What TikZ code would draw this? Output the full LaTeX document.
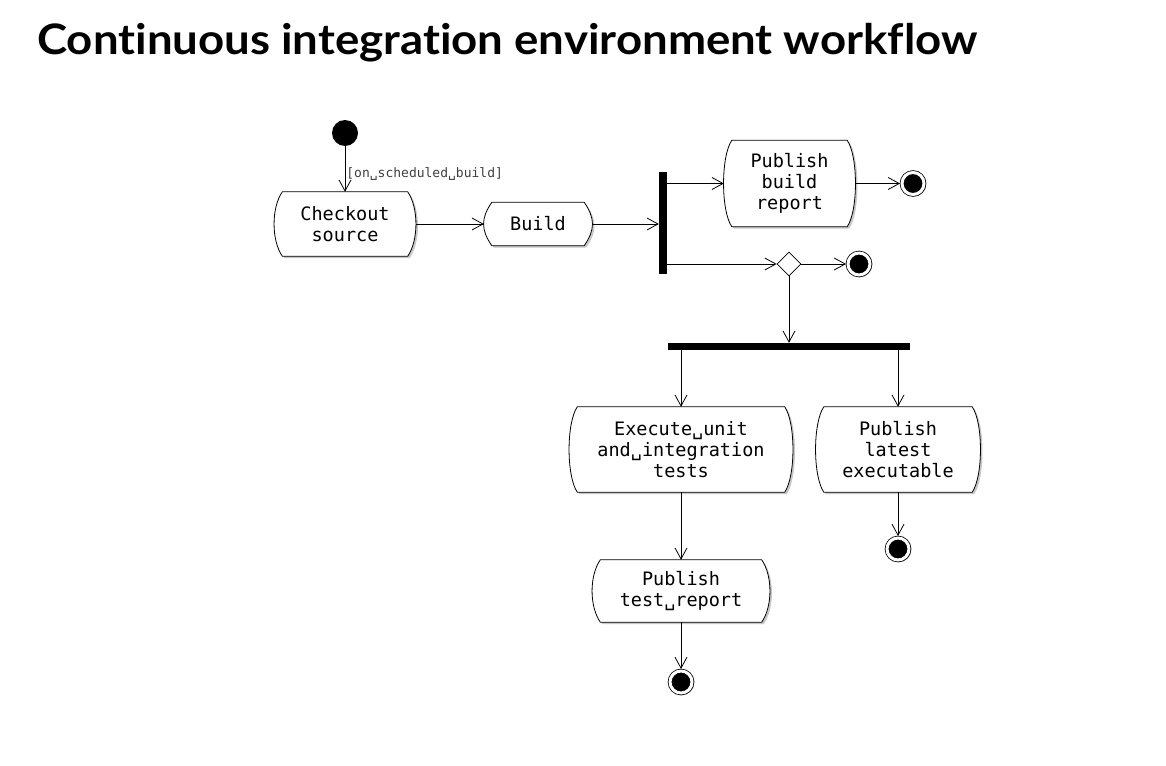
\documentclass[tikz,border=0pt]{standalone}
\usepackage{fontspec}
\usepackage{tikz}
\usetikzlibrary{arrows.meta, positioning, backgrounds, shapes.geometric}
\newfontfamily\umlfont{DejaVu Sans Mono}
\newfontfamily\titlefont[Ligatures=NoCommon]{Lato}

% outline of an action: straight top and bottom, bulging sides
\newcommand\actionpath[1]{([xshift=8pt]#1.north west) -- ([xshift=-8pt]#1.north east)
  .. controls +(11,16) and +(11,-16) .. ([xshift=-8pt]#1.south east)
  -- ([xshift=8pt]#1.south west)
  .. controls +(-11,-16) and +(-11,16) .. ([xshift=8pt]#1.north west) -- cycle}

\tikzset{
  flow/.style={-{Straight Barb[length=11pt,width=12pt]}, line width=0.8pt},
  action/.style={font=\umlfont\fontsize{18.5}{21}\selectfont, align=center, inner sep=0pt},
  start/.style={circle, fill=black, minimum size=26pt, inner sep=0pt},
  stop/.style={circle, fill=black, draw=black, line width=0.8pt, double=white, double distance=3pt,
    minimum size=22pt, inner sep=0pt, outer sep=2pt,
    preaction={draw=black!25, fill=black!25, transform canvas={shift={(1.5pt,-1.5pt)}}}},
  decision/.style={diamond, draw, fill=white, line width=0.8pt, aspect=1,
    minimum width=24pt, minimum height=24pt, inner sep=0pt},
  syncbar/.style={fill=black, inner sep=0pt},
}

\begin{document}
\begin{tikzpicture}[x=1pt, y=-1pt]
  \useasboundingbox (0,0) rectangle (1166,765);

  \node[anchor=base west, inner sep=0pt, font=\titlefont\bfseries\fontsize{42}{50}\selectfont] (title) at (37,55)
    {\scalebox{1.085}[1]{Continuous integration environment workflow}};

  % actions
  \node[start] (init) at (345,133) {};
  \node[action, minimum width=141pt, minimum height=64pt] (checkout) at (345,224) {Checkout\\source};
  \node[action, minimum width=108pt, minimum height=43pt] (build) at (538,224) {Build};
  \node[syncbar, minimum width=8pt, minimum height=102pt] (fork1) at (663,223) {};
  \node[action, minimum width=131pt, minimum height=86pt] (pubbuild) at (789.5,183.5) {Publish\\build\\report};
  \node[stop] (endbuild) at (913,183.5) {};
  \node[decision] (check) at (789,264) {};
  \node[stop] (endcheck) at (859,264) {};
  \node[syncbar, minimum width=242pt, minimum height=7pt] (fork2) at (789,346.5) {};
  \node[action, minimum width=223pt, minimum height=85pt] (runtests) at (681,449.5)
    {Execute␣unit\\and␣integration\\tests};
  \node[action, minimum width=164pt, minimum height=85pt] (publatest) at (898,449.5)
    {Publish\\latest\\executable};
  \node[stop] (endlatest) at (898,549) {};
  \node[action, minimum width=177pt, minimum height=62pt] (pubtests) at (681,591) {Publish\\test␣report};
  \node[stop] (endtests) at (681,682) {};

  \begin{scope}[on background layer]
    \fill[white] (0,0) rectangle (1166,765);
    \foreach \n in {checkout, build, pubbuild, runtests, publatest, pubtests} {
      \fill[black!22, transform canvas={shift={(2pt,-2pt)}}] \actionpath{\n};
      \draw[line width=0.8pt, fill=white] \actionpath{\n};
    }
  \end{scope}

  % flows
  \draw[flow] (init) -- (checkout.north)
    node[pos=0.6, anchor=west, inner sep=1pt, text=black!75, font=\umlfont\fontsize{13}{15}\selectfont] (guard)
    {[on␣scheduled␣build]};
  \draw[flow] (checkout.east) -- (build.west);
  \draw[flow] (build.east) -- (build.east -| fork1.west);
  \draw[flow] (fork1.east |- pubbuild.west) -- (pubbuild.west);
  \draw[flow] (pubbuild.east) -- (endbuild);
  \draw[flow] (fork1.east |- check.west) -- (check.west);
  \draw[flow] (check.east) -- (endcheck);
  \draw[flow] (check.south) -- (check.south |- fork2.north);
  \draw[flow] (fork2.south -| runtests.north) -- (runtests.north);
  \draw[flow] (fork2.south -| publatest.north) -- (publatest.north);
  \draw[flow] (publatest.south) -- (endlatest);
  \draw[flow] (runtests.south) -- (pubtests.north);
  \draw[flow] (pubtests.south) -- (endtests);
\end{tikzpicture}
\end{document}
